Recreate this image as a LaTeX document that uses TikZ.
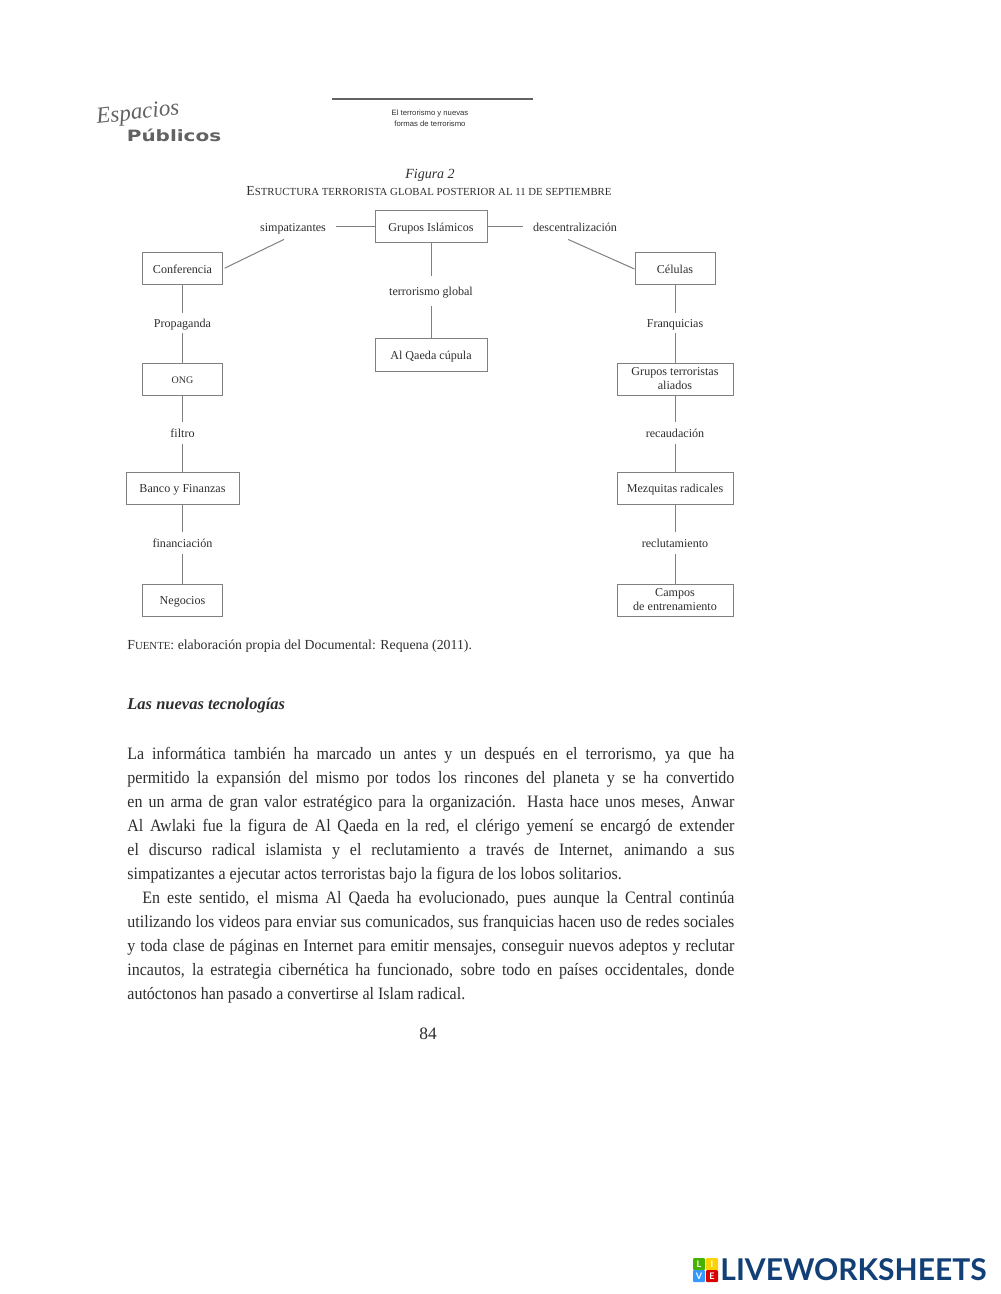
\documentclass[tikz,border=0pt]{standalone}
\usepackage{fontspec}
\usepackage{tikz}
\setmainfont{Liberation Serif}
\newfontfamily\bodyfont[FakeStretch=0.92]{Liberation Serif}
\newfontfamily\headfont{Liberation Sans}
\newfontfamily\logofont[FakeStretch=1.28]{DejaVu Sans}
\newfontfamily\markfont{Lato}
\definecolor{ink}{HTML}{2E2E2E}
\definecolor{boxline}{HTML}{808080}
\definecolor{markblue}{HTML}{123F76}
\newcommand{\smcaps}[2]{{\fontsize{6.9}{8}\selectfont #1}{\fontsize{5.4}{8}\selectfont #2}}
\tikzset{
  twolines/.style={draw=boxline,line width=0.5pt,align=center,inner sep=0pt,text=ink,
    font=\fontsize{6.05}{7}\selectfont},
  box/.style={twolines,text height=5pt,text depth=0.6pt},
  lbl/.style={align=center,inner xsep=5pt,inner ysep=0pt,minimum height=10pt,text=ink,
    font=\fontsize{6.05}{7}\selectfont,text height=5pt,text depth=0.6pt},
  link/.style={draw=boxline,line width=0.5pt},
  tile/.style={minimum size=6pt,inner sep=0pt,text=white,rounded corners=0.5pt,
    font=\markfont\bfseries\fontsize{4.5}{5}\selectfont}
}
\begin{document}
\begin{tikzpicture}[x=0.5pt,y=-0.5pt]
  \useasboundingbox (0,0) rectangle (1000,1294);
  % page head
  \node[coordinate] (ruleL) at (332,99) {};
  \node[coordinate] (ruleR) at (533,99) {};
  \draw[line width=1pt,color=ink!75] (ruleL) -- (ruleR);
  \node[align=center,text=ink,inner sep=0pt,font=\headfont\fontsize{3.85}{5.6}\selectfont] (running) at (430,118)
    {El terrorismo y nuevas\\formas de terrorismo};
  \node[text=ink!75,inner sep=0pt,font=\itshape\fontsize{11.5}{14}\selectfont,rotate=6] (logoA) at (138,114) {Espacios};
  \node[text=ink!75,inner sep=0pt,font=\logofont\bfseries\fontsize{7.8}{9}\selectfont] (logoB) at (174,135) {Públicos};
  % titles
  \node[text=ink,inner sep=0pt,font=\itshape\fontsize{7}{8}\selectfont] (figname) at (430,175.5) {Figura 2};
  \node[text=ink,inner sep=0pt] (figtitle) at (429,191)
    {\smcaps{E}{STRUCTURA TERRORISTA GLOBAL POSTERIOR AL 11 DE SEPTIEMBRE}};
  % boxes
  \node[box,minimum width=56pt,minimum height=16pt] (grupos) at (431,227) {Grupos Islámicos};
  \node[box,minimum width=56pt,minimum height=16pt] (qaeda) at (431,355) {Al Qaeda cúpula};
  \node[box,minimum width=40pt,minimum height=16pt] (conf) at (182.5,269) {Conferencia};
  \node[box,minimum width=40pt,minimum height=16pt] (ong) at (182.5,379) {\fontsize{5}{6}\selectfont ONG};
  \node[box,minimum width=56.5pt,minimum height=16pt] (banco) at (182.5,488) {Banco y Finanzas};
  \node[box,minimum width=40pt,minimum height=16pt] (negocios) at (182.5,600) {Negocios};
  \node[box,minimum width=40pt,minimum height=16pt] (celulas) at (675,269) {Células};
  \node[twolines,minimum width=58pt,minimum height=16pt] (aliados) at (675,379) {Grupos terroristas\\aliados};
  \node[box,minimum width=58pt,minimum height=16pt] (mezquitas) at (675,488) {Mezquitas radicales};
  \node[twolines,minimum width=58pt,minimum height=16pt] (campos) at (675,600) {Campos\\de entrenamiento};
  % labels
  \node[lbl] (simp) at (293,227) {simpatizantes};
  \node[lbl] (desc) at (575,227) {descentralización};
  \node[lbl,minimum height=14.5pt] (global) at (431,291) {terrorismo global};
  \node[lbl] (prop) at (182.5,323) {Propaganda};
  \node[lbl,minimum height=11pt] (filtro) at (182.5,433) {filtro};
  \node[lbl,minimum height=11pt] (finan) at (182.5,543) {financiación};
  \node[lbl] (franq) at (675,323) {Franquicias};
  \node[lbl,minimum height=11pt] (recau) at (675,433) {recaudación};
  \node[lbl,minimum height=11pt] (reclu) at (675,543) {reclutamiento};
  % connectors
  \draw[link] (simp) -- (grupos);
  \draw[link] (grupos) -- (desc);
  \draw[link] (grupos) -- (global);
  \draw[link] (global) -- (qaeda);
  \draw[link,shorten >=1pt] (simp.south) ++(-9,2) -- (conf.east);
  \draw[link] (desc.south) ++(-7,2) -- (celulas.west);
  \draw[link] (conf) -- (prop);
  \draw[link] (prop) -- (ong);
  \draw[link] (ong) -- (filtro);
  \draw[link] (filtro) -- (banco);
  \draw[link] (banco) -- (finan);
  \draw[link] (finan) -- (negocios);
  \draw[link] (celulas) -- (franq);
  \draw[link] (franq) -- (aliados);
  \draw[link] (aliados) -- (recau);
  \draw[link] (recau) -- (mezquitas);
  \draw[link] (mezquitas) -- (reclu);
  \draw[link] (reclu) -- (campos);
  % source and body text
  \node[anchor=base west,inner sep=0pt,text=ink,font=\fontsize{6.9}{8}\selectfont] (source) at (127,649)
    {\smcaps{F}{UENTE}: elaboración propia del Documental: Requena (2011).};
  \node[anchor=base west,inner sep=0pt,text=ink,font=\bfseries\itshape\fontsize{8.25}{10}\selectfont] (section) at (127,709)
    {Las nuevas tecnologías};
  \node[anchor=north west,inner sep=0pt,text width=303.5pt,text=ink,align=justify,
    font=\bodyfont\fontsize{8.7}{12}\selectfont] (body) at (127,747)
    {La informática también ha marcado un antes y un después en el terrorismo, ya que ha\linebreak
    permitido la expansión del mismo por todos los rincones del planeta y se ha convertido\linebreak
    en un arma de gran valor estratégico para la organización. Hasta hace unos meses, Anwar\linebreak
    Al Awlaki fue la figura de Al Qaeda en la red, el clérigo yemení se encargó de extender\linebreak
    el discurso radical islamista y el reclutamiento a través de Internet, animando a sus\linebreak
    simpatizantes a ejecutar actos terroristas bajo la figura de los lobos solitarios.\par
    \hspace*{7.5pt}En este sentido, el misma Al Qaeda ha evolucionado, pues aunque la Central continúa\linebreak
    utilizando los videos para enviar sus comunicados, sus franquicias hacen uso de redes sociales\linebreak
    y toda clase de páginas en Internet para emitir mensajes, conseguir nuevos adeptos y reclutar\linebreak
    incautos, la estrategia cibernética ha funcionado, sobre todo en países occidentales, donde\linebreak
    autóctonos han pasado a convertirse al Islam radical.\par};
  \node[inner sep=0pt,text=ink,font=\fontsize{8.7}{10}\selectfont] (pagenum) at (428,1034) {84};
  % watermark
  \node[tile,fill=green!50!lime!70!black] (tileL) at (699,1264) {L};
  \node[tile,fill=yellow!70!orange] (tileI) at (712,1264) {I};
  \node[tile,fill=blue!50!cyan!80] (tileV) at (699,1276) {V};
  \node[tile,fill=red!85!black] (tileE) at (712,1276) {E};
  \node[anchor=west,inner sep=0pt,text=markblue,font=\markfont\bfseries\fontsize{15}{16}\selectfont] (mark) at (720,1270) {LIVEWORKSHEETS};
\end{tikzpicture}
\end{document}
